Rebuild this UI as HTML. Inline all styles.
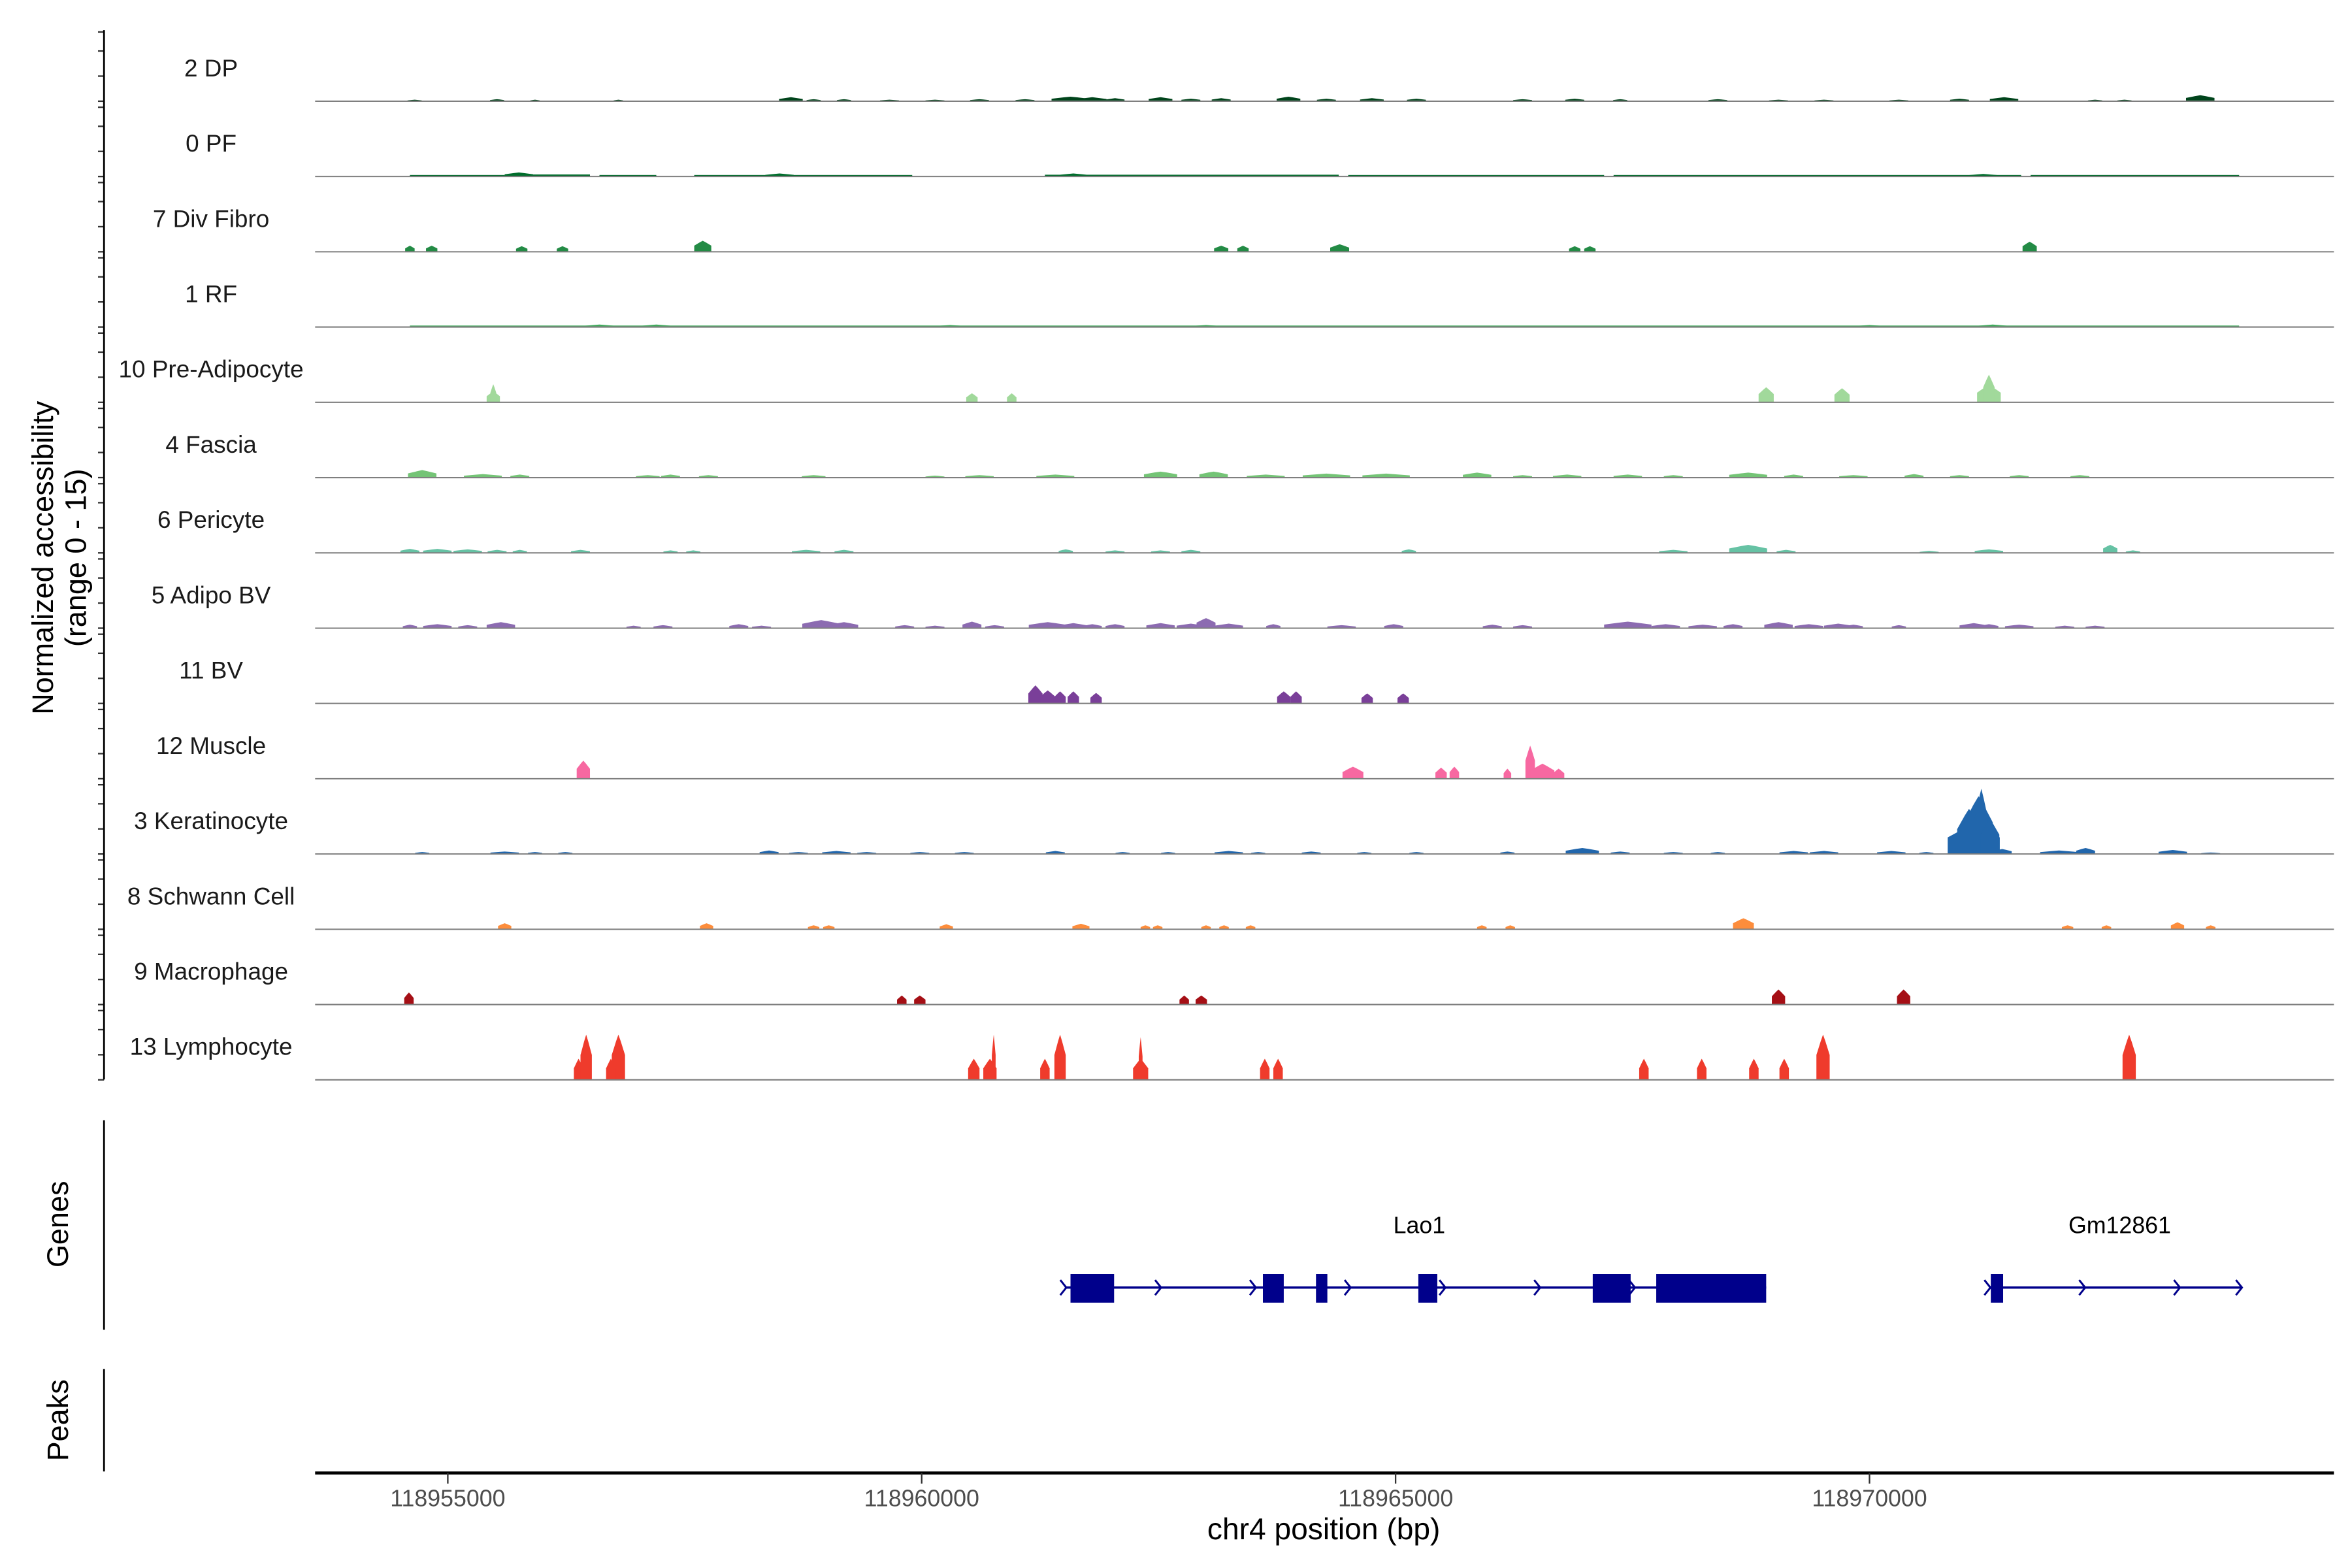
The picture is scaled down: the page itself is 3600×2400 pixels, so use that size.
<!DOCTYPE html>
<html><head><meta charset="utf-8">
<style>
html,body{margin:0;padding:0;background:#fff;}
svg{display:block;}
text{font-family:"Liberation Sans",Arial,sans-serif;}
</style></head>
<body>
<svg id="chart" width="3600" height="2400" viewBox="0 0 1560 1040" xmlns="http://www.w3.org/2000/svg">
<g id="tracks"></g>
<g id="genes"></g>
<g id="axes"></g>
</svg>
<script>
// positions in kb offset from 118950000
const trackNames = ["2 DP","0 PF","7 Div Fibro","1 RF","10 Pre-Adipocyte","4 Fascia","6 Pericyte","5 Adipo BV","11 BV","12 Muscle","3 Keratinocyte","8 Schwann Cell","9 Macrophage","13 Lymphocyte"];
const trackColors = ["#00441b","#006d2c","#238b45","#41ab5d","#a1d99b","#74c476","#66c2a4","#8c6bb1","#7a3f99","#f768a1","#2166ac","#fd8d3c","#a50f15","#ef3b2c"];
// peaks: [centerKb, height(0-15), widthKb]
const peaksDP = [[4.65,0.3,0.15],[5.52,0.4,0.15],[5.92,0.3,0.1],[6.8,0.3,0.1],[8.62,0.8,0.25],[8.86,0.4,0.15],[9.18,0.4,0.15],[9.66,0.3,0.2],[10.14,0.3,0.2],[10.61,0.4,0.2],[11.09,0.4,0.2],[11.57,0.9,0.4],[11.8,0.8,0.3],[12.04,0.6,0.2],[12.52,0.8,0.25],[12.84,0.5,0.2],[13.16,0.6,0.2],[13.87,0.9,0.25],[14.27,0.5,0.2],[14.75,0.6,0.25],[15.22,0.5,0.2],[16.34,0.4,0.2],[16.89,0.5,0.2],[17.37,0.4,0.15],[18.4,0.4,0.2],[19.04,0.3,0.2],[19.52,0.3,0.2],[20.31,0.3,0.2],[20.95,0.5,0.2],[21.42,0.8,0.3],[22.38,0.3,0.15],[22.69,0.3,0.15],[23.49,1.2,0.3]];
const segPF = [[4.6,5.6,0.3],[5.7,6.5,0.4],[6.6,7.2,0.3],[7.6,9.9,0.3],[11.3,14.4,0.35],[14.5,17.2,0.3],[17.3,21.6,0.3],[21.7,23.9,0.3]];
const peaksPF = [[5.75,0.8,0.3],[8.5,0.6,0.3],[11.6,0.6,0.3],[21.2,0.5,0.3]];
const peaksDivFibro = [[4.6,1.2,0.1],[4.83,1.2,0.12],[5.78,1.1,0.12],[6.21,1.1,0.12],[7.69,2.2,0.18],[13.16,1.2,0.15],[13.39,1.2,0.12],[14.41,1.5,0.2],[16.89,1.1,0.12],[17.05,1.1,0.12],[21.69,2.0,0.15]];
const segRF = [[4.6,23.9,0.3]];
const peaksRF = [[6.6,0.5,0.3],[7.2,0.5,0.3],[10.3,0.4,0.3],[13.0,0.4,0.3],[20.0,0.4,0.3],[21.3,0.5,0.3]];
const peaksPreAdipo = [[5.48,2.2,0.14],[5.48,3.6,0.06],[10.53,1.8,0.12],[10.95,1.8,0.1],[18.91,3.0,0.16],[19.71,2.8,0.16],[21.26,3.5,0.25],[21.26,5.5,0.12]];
const peaksFascia = [[4.73,1.5,0.3],[5.37,0.7,0.4],[5.76,0.6,0.2],[7.11,0.5,0.25],[7.35,0.6,0.2],[7.75,0.5,0.2],[8.86,0.5,0.25],[10.14,0.4,0.2],[10.61,0.5,0.3],[11.41,0.6,0.4],[12.52,1.2,0.35],[13.08,1.2,0.3],[13.63,0.6,0.4],[14.27,0.8,0.5],[14.9,0.8,0.5],[15.86,1.0,0.3],[16.34,0.5,0.2],[16.81,0.6,0.3],[17.45,0.6,0.3],[17.93,0.5,0.2],[18.72,1.0,0.4],[19.2,0.6,0.2],[19.83,0.5,0.3],[20.47,0.7,0.2],[20.95,0.5,0.2],[21.58,0.5,0.2],[22.22,0.5,0.2]];
const peaksPericyte = [[4.6,0.8,0.2],[4.89,0.8,0.3],[5.21,0.7,0.3],[5.52,0.6,0.2],[5.76,0.6,0.15],[6.4,0.6,0.2],[7.35,0.5,0.15],[7.59,0.5,0.15],[8.78,0.6,0.3],[9.18,0.6,0.2],[11.52,0.7,0.15],[12.04,0.5,0.2],[12.52,0.5,0.2],[12.84,0.6,0.2],[15.14,0.7,0.15],[17.93,0.6,0.3],[18.72,1.6,0.4],[19.12,0.6,0.2],[20.63,0.4,0.2],[21.26,0.7,0.3],[22.54,1.6,0.15],[22.78,0.5,0.15]];
const peaksAdipoBV = [[4.6,0.7,0.15],[4.89,0.8,0.3],[5.21,0.6,0.2],[5.56,1.2,0.3],[6.96,0.5,0.15],[7.27,0.6,0.2],[8.07,0.8,0.2],[8.31,0.5,0.2],[8.94,1.6,0.4],[9.18,1.2,0.3],[9.82,0.6,0.2],[10.14,0.5,0.2],[10.53,1.3,0.2],[10.77,0.6,0.2],[11.33,1.2,0.4],[11.6,1.0,0.3],[11.8,0.8,0.2],[12.04,0.8,0.2],[12.52,1.0,0.3],[12.84,0.9,0.3],[13.0,2.0,0.2],[13.24,0.9,0.3],[13.71,0.8,0.15],[14.43,0.6,0.3],[14.98,0.8,0.2],[16.02,0.7,0.2],[16.34,0.6,0.2],[17.45,1.3,0.5],[17.85,0.8,0.3],[18.24,0.7,0.3],[18.56,0.8,0.2],[19.04,1.2,0.3],[19.36,0.8,0.3],[19.67,0.9,0.3],[19.83,0.7,0.2],[20.31,0.6,0.15],[21.1,1.0,0.3],[21.26,0.8,0.2],[21.58,0.7,0.3],[22.06,0.5,0.2],[22.38,0.5,0.2]];
const peaksBV = [[11.2,3.6,0.15],[11.33,2.6,0.15],[11.46,2.4,0.12],[11.6,2.4,0.12],[11.84,2.1,0.12],[13.82,2.4,0.14],[13.95,2.4,0.12],[14.7,2.0,0.12],[15.08,2.0,0.12]];
const peaksMuscle = [[6.43,3.6,0.14],[14.55,2.4,0.22],[15.48,2.2,0.12],[15.62,2.4,0.1],[16.18,2.0,0.08],[16.42,6.6,0.1],[16.55,3.0,0.25],[16.72,2.0,0.12]];
const peaksKerat = [[4.73,0.4,0.15],[5.6,0.5,0.3],[5.92,0.4,0.15],[6.24,0.4,0.15],[8.39,0.7,0.2],[8.7,0.4,0.2],[9.1,0.6,0.3],[9.42,0.4,0.2],[9.98,0.4,0.2],[10.45,0.4,0.2],[11.41,0.6,0.2],[12.12,0.4,0.15],[12.6,0.4,0.15],[13.24,0.6,0.3],[13.55,0.4,0.15],[14.11,0.5,0.2],[14.67,0.4,0.15],[15.22,0.4,0.15],[16.18,0.5,0.15],[16.97,1.2,0.35],[17.37,0.5,0.2],[17.93,0.4,0.2],[18.4,0.4,0.15],[19.2,0.6,0.3],[19.52,0.6,0.3],[20.23,0.6,0.3],[20.6,0.4,0.15],[21.1,6.0,0.55],[21.05,9.0,0.25],[21.15,11.5,0.3],[21.18,13.0,0.14],[21.27,7.0,0.2],[21.4,1.0,0.2],[22.0,0.7,0.4],[22.28,1.2,0.2],[23.2,0.8,0.3],[23.6,0.3,0.2]];
const peaksSchwann = [[5.6,1.2,0.14],[7.73,1.2,0.14],[8.86,0.8,0.12],[9.02,0.8,0.12],[10.26,1.0,0.14],[11.68,1.1,0.18],[12.36,0.8,0.1],[12.49,0.8,0.1],[13.0,0.8,0.1],[13.19,0.8,0.1],[13.47,0.8,0.1],[15.91,0.8,0.1],[16.21,0.8,0.1],[18.67,2.2,0.22],[22.09,0.8,0.12],[22.5,0.8,0.1],[23.25,1.4,0.14],[23.6,0.8,0.1]];
const peaksMacro = [[4.59,2.4,0.1],[9.79,1.8,0.1],[9.98,1.8,0.12],[12.77,1.8,0.1],[12.95,1.8,0.12],[19.04,3.0,0.14],[20.36,3.0,0.14]];
const peaksLympho = [[6.38,4.2,0.1],[6.46,9.0,0.12],[6.8,9.0,0.14],[6.72,4.2,0.1],[10.55,4.2,0.12],[10.72,4.2,0.14],[10.76,9.0,0.04],[11.3,4.2,0.1],[11.46,9.0,0.12],[12.31,8.5,0.04],[12.31,4.2,0.16],[13.62,4.2,0.1],[13.76,4.2,0.1],[17.62,4.2,0.1],[18.23,4.2,0.1],[18.78,4.2,0.1],[19.1,4.2,0.1],[19.51,9.0,0.14],[22.74,9.0,0.14]];
const trackPeaks = [peaksDP,peaksPF,peaksDivFibro,peaksRF,peaksPreAdipo,peaksFascia,peaksPericyte,peaksAdipoBV,peaksBV,peaksMuscle,peaksKerat,peaksSchwann,peaksMacro,peaksLympho];
const trackSegs = [[],segPF,[],segRF,[],[],[],[],[],[],[],[],[],[]];
const xTicksKb = [5,10,15,20];
const xTickLabels = ["118955000","118960000","118965000","118970000"];
const genes = ["Lao1","Gm12861"];
const geneStart = [11.51,21.26];
const geneEnd = [18.91,23.93];
const geneLabelKb = [15.25,22.64];
const exonStart = [[11.57,13.6,14.16,15.24,17.08,17.75],[21.28]];
const exonEnd = [[12.03,13.82,14.28,15.44,17.48,18.91],[21.41]];

const NS="http://www.w3.org/2000/svg";
const X0=209,X1=1548,D0=3.60,D1=24.90;
const xs = kb => X0+(kb-D0)/(D1-D0)*(X1-X0);
const TOP=17.2, TH=49.93, YMAX=15;
const ys = (i,v) => TOP+TH*(i+1) - v/YMAX*TH;
function mk(tag,attrs,parent){const e=document.createElementNS(NS,tag);for(const k in attrs)e.setAttribute(k,attrs[k]);parent.appendChild(e);return e;}
const gT=document.getElementById('tracks'), gG=document.getElementById('genes'), gA=document.getElementById('axes');

trackNames.forEach((name,i)=>{
  const g=mk('g',{},gT);
  
  
  const b=ys(i,0);
  const t=mk('text',{x:140,y:b-16.5,'text-anchor':'middle','font-size':'16',fill:'#1a1a1a'},g);
  t.textContent=name;
  
  
  trackSegs[i].forEach(s=>{
    const r=mk('rect',{x:xs(s[0]),y:ys(i,s[2]),width:xs(s[1])-xs(s[0]),height:b-ys(i,s[2]),fill:trackColors[i]},g);
    
    
  });
  trackPeaks[i].forEach(p=>{
    const c=p[0],h=p[1],w=p[2];
    const l=xs(c-w/2),r=xs(c+w/2),cx=xs(c),q=(r-l)*0.18;
    const pts=[[l,b],[l,ys(i,h*0.55)],[cx-q,ys(i,h*0.85)],[cx,ys(i,h)],[cx+q,ys(i,h*0.85)],[r,ys(i,h*0.55)],[r,b]];
    const pg=mk('polygon',{points:pts.map(a=>a[0].toFixed(2)+','+a[1].toFixed(2)).join(' '),fill:trackColors[i]},g);
    
    
  });
  const ln=mk('line',{x1:X0,x2:X1,y1:b,y2:b,stroke:'#7f7f7f','stroke-width':'0.9'},g);
  
  
  [15,10,5,0].forEach(v=>{
    const yy=ys(i,v)+(v===15?4:0);
    const tk=mk('line',{x1:65,x2:69,y1:yy,y2:yy,stroke:'#333','stroke-width':'1'},gA);
    
    
  });
});

const yax=mk('line',{x1:69,x2:69,y1:20,y2:716,stroke:'#000','stroke-width':'1.2'},gA);


const yt=mk('text',{x:0,y:0,'text-anchor':'middle','font-size':'19.5',fill:'#000',transform:'translate(35,370) rotate(-90)'},gA);
yt.textContent='Normalized accessibility';


const yt2=mk('text',{x:0,y:0,'text-anchor':'middle','font-size':'19.5',fill:'#000',transform:'translate(57,370) rotate(-90)'},gA);
yt2.textContent='(range 0 - 15)';



const gl=mk('line',{x1:69,x2:69,y1:743,y2:882,stroke:'#000','stroke-width':'1.2'},gA);


const gtt=mk('text',{x:0,y:0,'text-anchor':'middle','font-size':'19.5',fill:'#000',transform:'translate(45,812) rotate(-90)'},gA);
gtt.textContent='Genes';


const pl=mk('line',{x1:69,x2:69,y1:908,y2:976,stroke:'#000','stroke-width':'1.2'},gA);


const ptt=mk('text',{x:0,y:0,'text-anchor':'middle','font-size':'19.5',fill:'#000',transform:'translate(45,942) rotate(-90)'},gA);
ptt.textContent='Peaks';



const GY=854, NAVY='#00008b';
genes.forEach((gn,k)=>{
  const g=mk('g',{},gG);
  
  
  const lab=mk('text',{x:xs(geneLabelKb[k]),y:818,'text-anchor':'middle','font-size':'15.5',fill:'#000'},g);
  lab.textContent=gn;
  
  
  const ln=mk('line',{x1:xs(geneStart[k]),x2:xs(geneEnd[k]),y1:GY,y2:GY,stroke:NAVY,'stroke-width':'1.5'},g);
  
  
  for(let a=geneStart[k];a<=geneEnd[k]+0.01;a+=1.0){
    const ax=xs(a);
    const ch=mk('polyline',{points:`${ax-3},${GY-5} ${ax+1},${GY} ${ax-3},${GY+5}`,fill:'none',stroke:NAVY,'stroke-width':'1.3'},g);
    
    
  }
  if(k===1){
    const ax=xs(geneEnd[k]);
    const ch=mk('polyline',{points:`${ax-4},${GY-5} ${ax},${GY} ${ax-4},${GY+5}`,fill:'none',stroke:NAVY,'stroke-width':'1.3'},g);
    
    
  }
  exonStart[k].forEach((s,j)=>{
    const r=mk('rect',{x:xs(s),y:845,width:xs(exonEnd[k][j])-xs(s),height:19,fill:NAVY},g);
    
    
  });
});

const xa=mk('line',{x1:X0,x2:X1,y1:977,y2:977,stroke:'#000','stroke-width':'2'},gA);


xTicksKb.forEach((kb,j)=>{
  const tk=mk('line',{x1:xs(kb),x2:xs(kb),y1:977,y2:984,stroke:'#333','stroke-width':'1'},gA);
  
  
  const tl=mk('text',{x:xs(kb),y:999,'text-anchor':'middle','font-size':'15.5',fill:'#4d4d4d'},gA);
  tl.textContent=xTickLabels[j];
  
  
});
const xt=mk('text',{x:878,y:1021,'text-anchor':'middle','font-size':'20',fill:'#000'},gA);
xt.textContent='chr4 position (bp)';


</script>
</body></html>
